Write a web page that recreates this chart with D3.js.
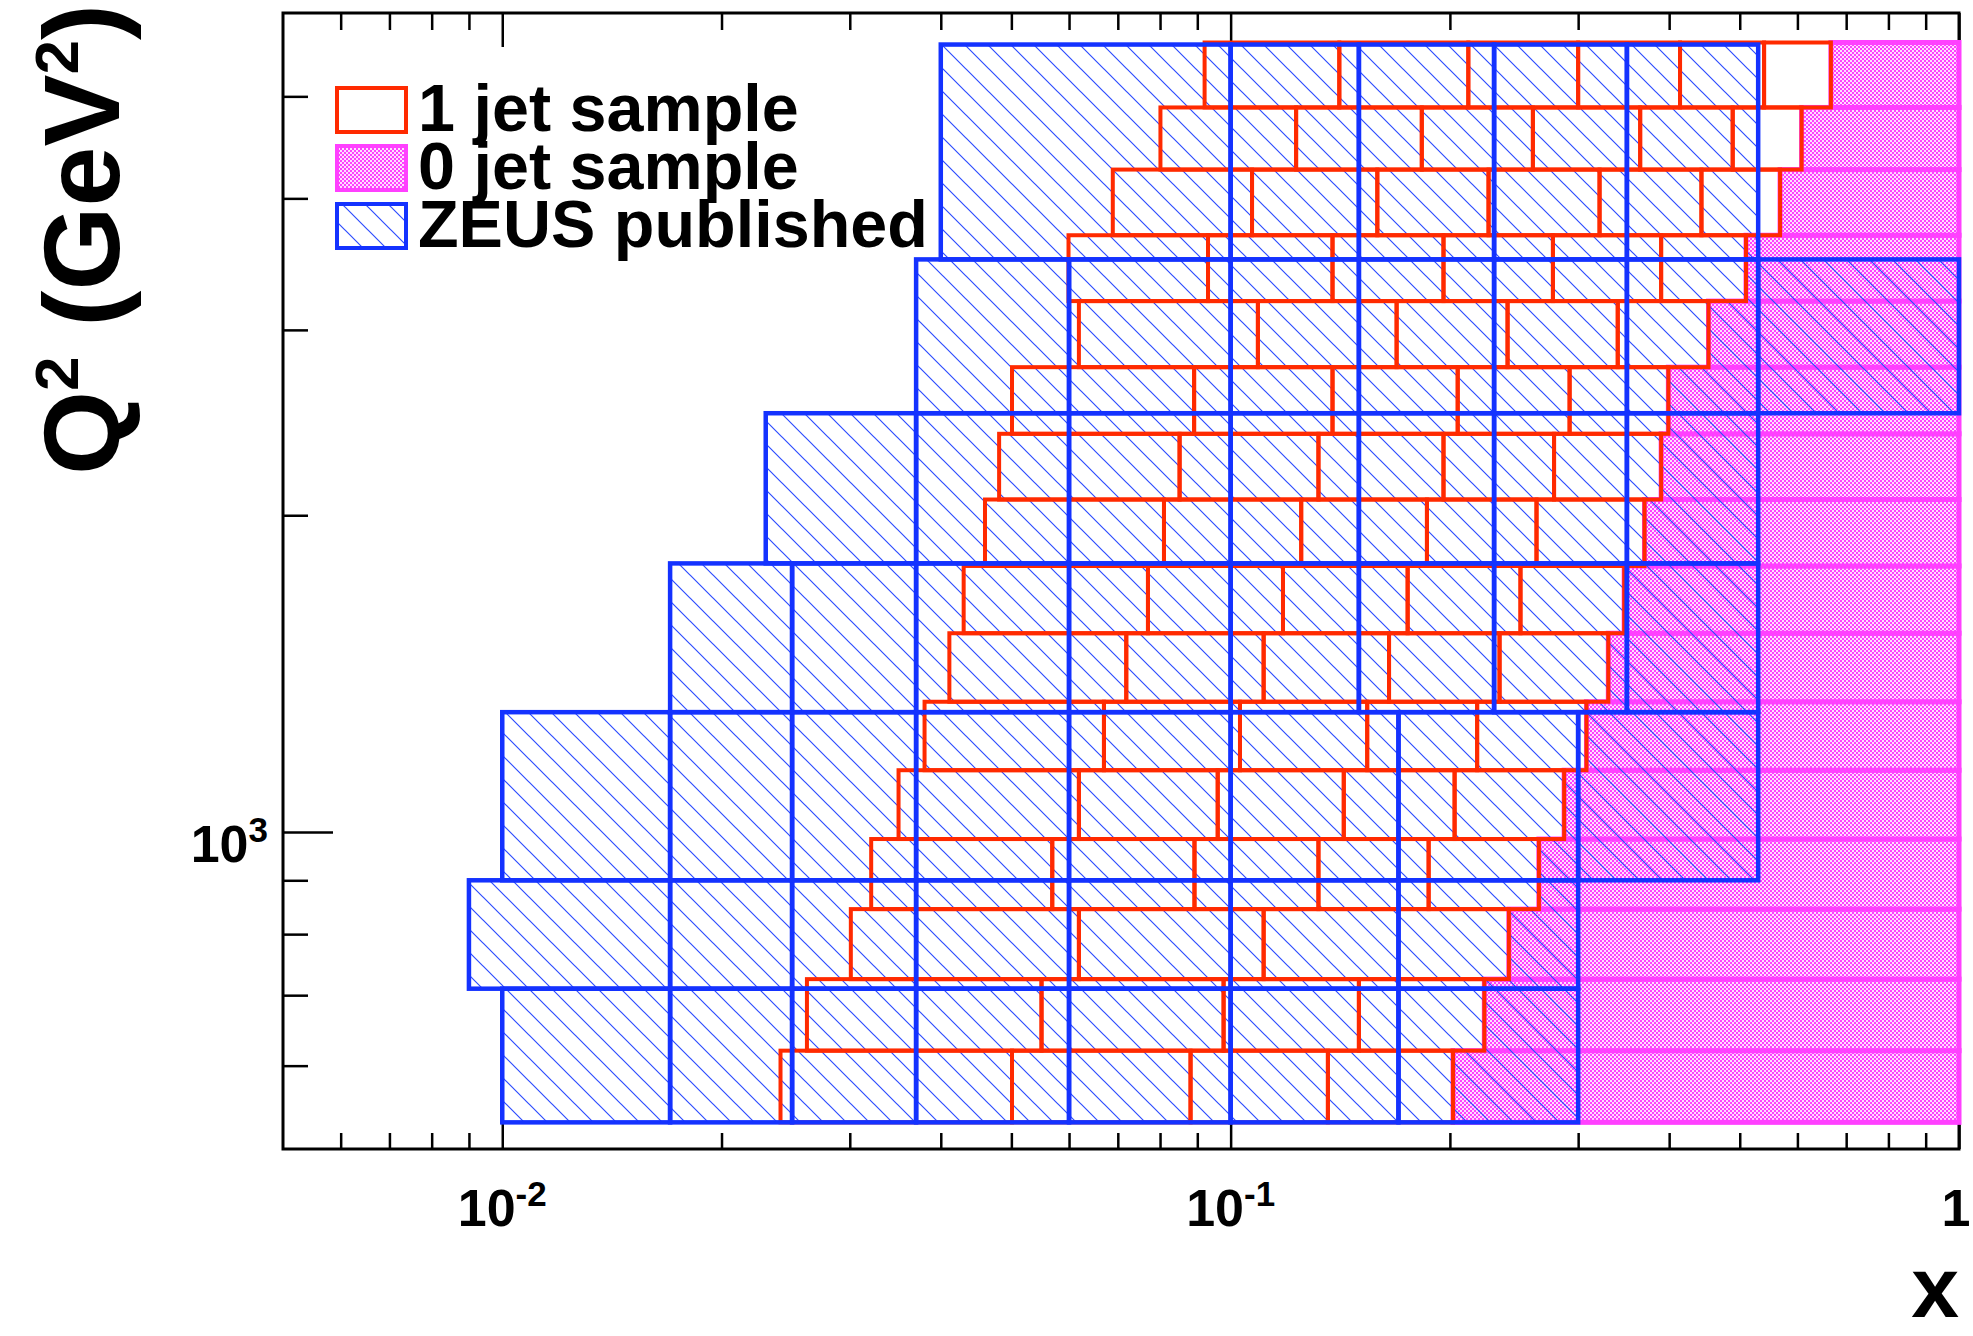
<!DOCTYPE html>
<html>
<head>
<meta charset="utf-8">
<script src="https://cdn.jsdelivr.net/npm/d3@7"></script>
<style>
  html, body { margin: 0; padding: 0; background: #fff; }
  svg { display: block; }
  text { font-family: "Liberation Sans", Arial, Helvetica, sans-serif; font-weight: bold; fill: #000; }
</style>
</head>
<body>
<svg id="chart" width="1973" height="1336"></svg>
<script>
// ---- Binning data -------------------------------------------------------
// ZEUS published (x, Q2) bins: one Q2 row per entry, with its x bin edges
const zeusQ2Edges = [530, 710, 900, 1300, 1800, 2500, 3500, 5600];
const zeusXEdges = [
  [0.01, 0.017, 0.025, 0.037, 0.06, 0.1, 0.17, 0.3],
  [0.009, 0.017, 0.025, 0.037, 0.06, 0.1, 0.17, 0.3],
  [0.01, 0.017, 0.025, 0.037, 0.06, 0.1, 0.17, 0.3, 0.53],
  [0.017, 0.025, 0.037, 0.06, 0.1, 0.15, 0.23, 0.35, 0.53],
  [0.023, 0.037, 0.06, 0.1, 0.15, 0.23, 0.35, 0.53],
  [0.037, 0.06, 0.1, 0.15, 0.23, 0.35, 0.53, 1.0],
  [0.04, 0.1, 0.15, 0.23, 0.35, 0.53]
];

// 1 jet sample: Q2 row edges and x bin edges per row
const jetQ2Edges = [530, 620, 725, 845, 985, 1145, 1330, 1545, 1790, 2070,
                    2390, 2765, 3195, 3690, 4260, 4880, 5625];
const jet1XEdges = [
  [0.0241, 0.0501, 0.0881, 0.136, 0.202],
  [0.0262, 0.055, 0.0978, 0.150, 0.223],
  [0.0301, 0.0619, 0.111, 0.241],
  [0.0321, 0.0569, 0.0892, 0.132, 0.187, 0.265],
  [0.035, 0.0619, 0.096, 0.143, 0.203, 0.287],
  [0.038, 0.067, 0.103, 0.154, 0.218, 0.308],
  [0.0411, 0.0719, 0.111, 0.165, 0.234, 0.330],
  [0.043, 0.077, 0.118, 0.175, 0.250, 0.347],
  [0.046, 0.081, 0.125, 0.186, 0.263, 0.370],
  [0.0481, 0.0851, 0.132, 0.196, 0.278, 0.390],
  [0.0501, 0.0891, 0.138, 0.205, 0.292, 0.399],
  [0.0619, 0.109, 0.169, 0.240, 0.340, 0.453],
  [0.0599, 0.0931, 0.138, 0.196, 0.277, 0.390, 0.510],
  [0.0689, 0.107, 0.159, 0.226, 0.321, 0.443, 0.568],
  [0.0801, 0.123, 0.183, 0.260, 0.365, 0.489, 0.608],
  [0.0921, 0.141, 0.212, 0.300, 0.414, 0.540, 0.667]
];

// 0 jet sample: one bin per Q2 row, from xLow up to xHigh
const jet0XLow = [0.202, 0.223, 0.241, 0.265, 0.287, 0.308, 0.330, 0.347,
                  0.370, 0.390, 0.399, 0.453, 0.510, 0.568, 0.608, 0.667];
const jet0XHigh = 1.0;

// Axis ticks and labels
const xMajorTicks = [0.01, 0.1, 1];
const xMinorTicks = [0.006, 0.007, 0.008, 0.009, 0.02, 0.03, 0.04, 0.05, 0.06, 0.07, 0.08, 0.09,
                     0.2, 0.3, 0.4, 0.5, 0.6, 0.7, 0.8, 0.9];
const xTickLabels = [
  { value: 0.01, base: "10", exp: "-2" },
  { value: 0.1, base: "10", exp: "-1" },
  { value: 1, base: "1", exp: "" }
];
const yMajorTicks = [1000];
const yMinorTicks = [600, 700, 800, 900, 2000, 3000, 4000, 5000];
const yTickLabels = [{ value: 1000, base: "10", exp: "3" }];

const legendEntries = [
  { key: "jet1", label: "1 jet sample" },
  { key: "jet0", label: "0 jet sample" },
  { key: "zeus", label: "ZEUS published" }
];

// ---- Layout --------------------------------------------------------------
const frame = { left: 283, right: 1959, top: 13, bottom: 1149 };
const RED = "#ff2a00", BLUE = "#1432ff", PINK = "#ff40ff";

const svg = d3.select("#chart");
const x = d3.scaleLog().domain([0.005, 1]).range([frame.left, frame.right]);
const y = d3.scaleLog().domain([500, 6000]).range([frame.bottom, frame.top]);

// Patterns: diagonal hatch for ZEUS, fine checker for the 0 jet sample
const defs = svg.append("defs");
const hatch = defs.append("pattern").attr("id", "hatch")
  .attr("patternUnits", "userSpaceOnUse").attr("width", 23).attr("height", 23);
hatch.append("path")
  .attr("d", "M-2,-2 L25,25 M-2,21 L2,25 M21,-2 L25,2")
  .attr("stroke", "#2d4cff").attr("stroke-width", 1.2).attr("fill", "none");

const checker = defs.append("pattern").attr("id", "checker")
  .attr("patternUnits", "userSpaceOnUse").attr("width", 4).attr("height", 4);
checker.append("rect").attr("width", 4).attr("height", 4).attr("fill", "#ffdcff");
checker.append("rect").attr("x", 0).attr("y", 0).attr("width", 2).attr("height", 2).attr("fill", PINK);
checker.append("rect").attr("x", 2).attr("y", 2).attr("width", 2).attr("height", 2).attr("fill", PINK);

// Turn per-row edge lists into individual bin rectangles
function binsFromRows(q2Edges, xEdgesPerRow) {
  const out = [];
  xEdgesPerRow.forEach((edges, i) => {
    for (let j = 0; j < edges.length - 1; j++) {
      out.push({ x0: edges[j], x1: edges[j + 1], q0: q2Edges[i], q1: q2Edges[i + 1] });
    }
  });
  return out;
}
const zeusBins = binsFromRows(zeusQ2Edges, zeusXEdges);
const jet1Bins = binsFromRows(jetQ2Edges, jet1XEdges);
const jet0Bins = jet0XLow.map((lo, i) => ({ x0: lo, x1: jet0XHigh, q0: jetQ2Edges[i], q1: jetQ2Edges[i + 1] }));

const rectAttrs = sel => sel
  .attr("x", d => x(d.x0))
  .attr("y", d => y(d.q1))
  .attr("width", d => x(d.x1) - x(d.x0))
  .attr("height", d => y(d.q0) - y(d.q1));

// ---- Axes (frame and ticks) ---------------------------------------------
const axes = svg.append("g").attr("class", "axes");
function styleAxis(g) {
  g.select(".domain").remove();
  g.selectAll(".tick line").attr("stroke", "#000").attr("stroke-width", 2.5);
  g.selectAll(".tick text").remove();
}
axes.append("g").attr("transform", `translate(0,${frame.bottom})`)
  .call(d3.axisBottom(x).tickValues(xMajorTicks).tickSize(-32).tickFormat("")).call(styleAxis);
axes.append("g").attr("transform", `translate(0,${frame.bottom})`)
  .call(d3.axisBottom(x).tickValues(xMinorTicks).tickSize(-16).tickFormat("")).call(styleAxis);
axes.append("g").attr("transform", `translate(0,${frame.top})`)
  .call(d3.axisTop(x).tickValues(xMajorTicks).tickSize(-34).tickFormat("")).call(styleAxis);
axes.append("g").attr("transform", `translate(0,${frame.top})`)
  .call(d3.axisTop(x).tickValues(xMinorTicks).tickSize(-17).tickFormat("")).call(styleAxis);
axes.append("g").attr("transform", `translate(${frame.left},0)`)
  .call(d3.axisLeft(y).tickValues(yMajorTicks).tickSize(-50).tickFormat("")).call(styleAxis);
axes.append("g").attr("transform", `translate(${frame.left},0)`)
  .call(d3.axisLeft(y).tickValues(yMinorTicks).tickSize(-25).tickFormat("")).call(styleAxis);
axes.append("rect")
  .attr("x", frame.left).attr("y", frame.top)
  .attr("width", frame.right - frame.left).attr("height", frame.bottom - frame.top)
  .attr("fill", "none").attr("stroke", "#000").attr("stroke-width", 3);

// ---- Bins ----------------------------------------------------------------
const plot = svg.append("g").attr("class", "bins");

// 0 jet sample: checker fill with magenta outline
plot.append("g").selectAll("rect").data(jet0Bins).join("rect").call(rectAttrs)
  .attr("fill", "url(#checker)").attr("stroke", PINK).attr("stroke-width", 5);

// ZEUS published: hatch fill
plot.append("g").selectAll("rect").data(zeusBins).join("rect").call(rectAttrs)
  .attr("fill", "url(#hatch)").attr("stroke", "none");

// 1 jet sample: red outlines
plot.append("g").selectAll("rect").data(jet1Bins).join("rect").call(rectAttrs)
  .attr("fill", "none").attr("stroke", RED).attr("stroke-width", 4);

// ZEUS published: blue outlines on top
plot.append("g").selectAll("rect").data(zeusBins).join("rect").call(rectAttrs)
  .attr("fill", "none").attr("stroke", BLUE).attr("stroke-width", 4.5);

// ---- Tick labels ---------------------------------------------------------
const labels = svg.append("g").attr("class", "tick-labels");
xTickLabels.forEach(t => {
  const txt = labels.append("text")
    .attr("x", Math.min(x(t.value), 1956)).attr("y", 1226)
    .attr("text-anchor", "middle").style("font-size", "52px");
  txt.append("tspan").text(t.base);
  if (t.exp) txt.append("tspan").attr("dy", -20).style("font-size", "35px").text(t.exp);
});
yTickLabels.forEach(t => {
  const txt = labels.append("text")
    .attr("x", 268).attr("y", y(t.value) + 30)
    .attr("text-anchor", "end").style("font-size", "52px");
  txt.append("tspan").text(t.base);
  if (t.exp) txt.append("tspan").attr("dy", -20).style("font-size", "35px").text(t.exp);
});

// ---- Axis titles ---------------------------------------------------------
svg.append("text")
  .attr("x", frame.right).attr("y", 1317)
  .attr("text-anchor", "end").style("font-size", "86px").text("x");

const yTitle = svg.append("text")
  .attr("transform", "translate(119,4) rotate(-90)")
  .attr("text-anchor", "end").style("font-size", "108px");
yTitle.append("tspan").text("Q");
yTitle.append("tspan").attr("dy", -41).style("font-size", "62px").text("2");
yTitle.append("tspan").attr("dy", 41).text(" (GeV");
yTitle.append("tspan").attr("dy", -41).style("font-size", "62px").text("2");
yTitle.append("tspan").attr("dy", 41).text(")");

// ---- Legend --------------------------------------------------------------
const legend = svg.append("g").attr("class", "legend");
const legendBoxX = 337, legendBoxW = 69, legendBoxH = 44;
const legendBaselines = [131, 189, 247];
legendEntries.forEach((e, i) => {
  const by = legendBaselines[i] - legendBoxH + 1;
  const box = legend.append("rect")
    .attr("x", legendBoxX).attr("y", by)
    .attr("width", legendBoxW).attr("height", legendBoxH);
  if (e.key === "jet1") box.attr("fill", "#fff").attr("stroke", RED).attr("stroke-width", 4);
  if (e.key === "jet0") box.attr("fill", "url(#checker)").attr("stroke", PINK).attr("stroke-width", 4);
  if (e.key === "zeus") box.attr("fill", "url(#hatch)").attr("stroke", BLUE).attr("stroke-width", 4);
  legend.append("text")
    .attr("x", 418).attr("y", legendBaselines[i])
    .style("font-size", "66.5px").text(e.label);
});
</script>
</body>
</html>
